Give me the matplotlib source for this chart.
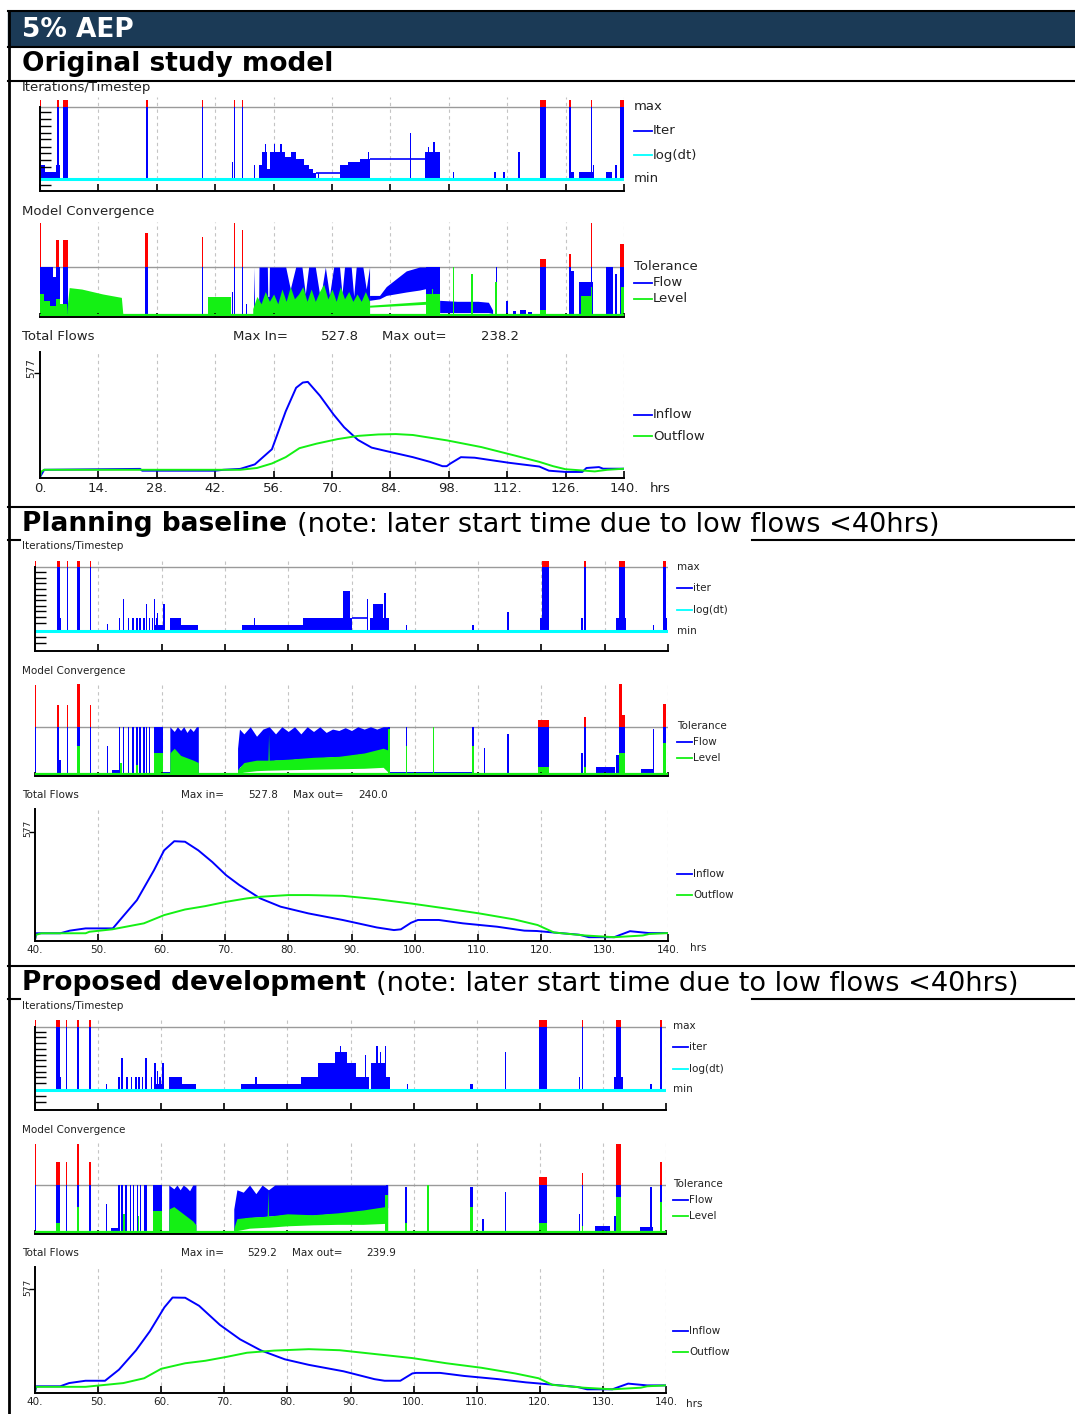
import matplotlib
matplotlib.use('Agg')
import matplotlib.pyplot as plt
from matplotlib.lines import Line2D
from matplotlib.patches import Rectangle
import numpy as np

# ---------------- data ----------------
# iteration panels: (t_start, t_end, height) ; 0 = min, 1 = max, >1 red
ITER1_BARS = [(0, 0.3, 1.1), (0, 1.2, 0.19), (1.2, 3.8, 0.1), (3.8, 4.8, 0.2), (4.0, 4.6, 1.1), (5.4, 6.8, 1.1),
              (25.3, 25.9, 1.1), (38.8, 38.8, 1.1), (46.0, 46.2, 0.24), (46.5, 46.5, 1.1), (48.4, 48.4, 1.1),
              (51.3, 51.3, 0.19), (52.5, 53.3, 0.19), (53.3, 54.4, 0.38), (53.9, 53.9, 0.48), (54.4, 55.2, 0.14),
              (55.2, 58.8, 0.38), (56.0, 56.0, 0.48), (57.6, 57.6, 0.48), (58.8, 60.2, 0.3), (60.2, 61.4, 0.38),
              (61.4, 63.2, 0.28), (63.2, 64.6, 0.2), (64.6, 65.5, 0.14), (65.5, 66.2, 0.09), (66.6, 66.6, 0.09),
              (71.8, 73.8, 0.2), (73.8, 76.6, 0.24), (76.6, 79.0, 0.28), (78.6, 78.6, 0.38), (88.6, 88.6, 0.64),
              (92.2, 95.8, 0.38), (93.0, 93.0, 0.45), (94.2, 94.8, 0.52), (99.0, 99.0, 0.1), (108.8, 109.3, 0.1),
              (111.1, 111.1, 0.1), (114.7, 114.7, 0.38), (119.9, 121.3, 1.1), (126.9, 126.9, 1.1),
              (127.2, 128.1, 0.1), (129.3, 132.5, 0.1), (132.1, 132.1, 1.1), (132.6, 132.6, 0.19),
              (135.8, 137.1, 0.1), (137.9, 137.9, 0.19), (139.1, 140, 1.1)]
ITER1_LINES = [(66.2, 71.8, 0.09), (79.0, 92.2, 0.28)]

ITER2_BARS = [(40, 40, 1.1), (43.4, 43.9, 1.1), (43.8, 44.1, 0.2), (45.0, 45.0, 1.1), (46.7, 47.1, 1.1),
              (48.7, 48.7, 1.1), (51.4, 51.4, 0.11), (53.2, 53.2, 0.2), (53.9, 53.9, 0.5), (54.7, 54.7, 0.2),
              (55.4, 55.4, 0.2), (56.0, 56.0, 0.2), (56.5, 56.5, 0.2), (57.1, 57.1, 0.2), (57.5, 57.5, 0.42),
              (58.0, 58.0, 0.2), (58.5, 58.5, 0.2), (58.8, 58.8, 0.5), (59.1, 59.1, 0.2), (59.3, 59.3, 0.28),
              (59.0, 60.3, 0.1), (60.3, 60.3, 0.42), (61.3, 63.1, 0.2), (63.1, 65.8, 0.1), (72.7, 82.4, 0.1),
              (74.6, 74.6, 0.2), (82.4, 88.6, 0.2), (88.6, 89.8, 0.62), (89.8, 90.0, 0.2), (92.4, 92.4, 0.5),
              (93.0, 96.0, 0.2), (93.4, 95.0, 0.42), (95.2, 95.2, 0.6), (98.6, 98.6, 0.1), (109.0, 109.4, 0.1),
              (114.6, 114.6, 0.3), (119.7, 120.1, 0.2), (120.1, 121.2, 1.1), (126.3, 126.3, 0.2),
              (126.7, 127.1, 1.1), (131.8, 133.4, 0.2), (132.2, 133.2, 1.1), (137.6, 137.6, 0.1),
              (139.2, 139.7, 1.1), (139.7, 139.9, 0.2)]
ITER2_LINES = [(90.0, 92.4, 0.2)]

ITER3_BARS = [(40, 40, 1.1), (43.4, 43.9, 1.1), (43.8, 44.1, 0.2), (44.9, 44.9, 1.1), (46.6, 47.0, 1.1),
              (48.6, 48.6, 1.1), (51.2, 51.2, 0.1), (53.2, 53.2, 0.2), (53.7, 53.7, 0.5), (54.5, 54.5, 0.2),
              (55.2, 55.2, 0.2), (55.9, 55.9, 0.2), (56.4, 56.4, 0.2), (56.9, 56.9, 0.2), (57.5, 57.5, 0.5),
              (58.4, 58.4, 0.2), (58.9, 58.9, 0.42), (59.3, 59.3, 0.3), (59.7, 59.7, 0.2), (59.2, 60.2, 0.1),
              (60.2, 60.2, 0.42), (61.2, 63.3, 0.2), (63.3, 65.5, 0.1), (72.7, 82.2, 0.1), (74.9, 74.9, 0.2),
              (82.2, 84.9, 0.2), (84.9, 87.5, 0.42), (87.5, 89.4, 0.6), (88.3, 88.3, 0.7), (89.4, 90.9, 0.42),
              (90.9, 92.3, 0.2), (92.3, 92.3, 0.55), (92.5, 92.9, 0.2), (93.2, 95.5, 0.42), (94.1, 94.1, 0.7),
              (94.7, 94.7, 0.6), (95.4, 95.4, 0.7), (95.5, 96.2, 0.2), (98.9, 98.9, 0.1), (109.0, 109.4, 0.1),
              (114.5, 114.5, 0.6), (119.9, 121.2, 1.1), (126.2, 126.2, 0.2), (126.7, 126.7, 1.1),
              (131.7, 133.2, 0.2), (132.1, 132.9, 1.1), (137.5, 137.5, 0.1), (139.0, 139.4, 1.1)]
ITER3_LINES = []

LOGTICKS1 = [0.93, 0.83, 0.74, 0.64, 0.55, 0.45, 0.36, 0.26, 0.17, -0.086]
LOGTICKS2 = [0.92, 0.83, 0.75, 0.66, 0.57, 0.48, 0.39, 0.31, 0.22, 0.12, -0.10, -0.19]
LOGTICKS3 = [0.92, 0.83, 0.74, 0.65, 0.56, 0.47, 0.38, 0.29, 0.20, 0.11, -0.10, -0.19]

# convergence panels: 0 = zero, 1 = tolerance, >1 red
CONV1_FLOW_BARS = [(0, 3.2, 1.0), (0, 0, 1.9), (3.2, 3.8, 0.8), (3.8, 4.6, 1.55), (4.6, 4.8, 1.0), (5.4, 6.8, 1.55),
                   (6.8, 8.0, 0.2), (9.0, 9.5, 0.15), (11.0, 11.3, 0.25), (12.5, 13.2, 0.2), (14.0, 14.4, 0.15),
                   (15.5, 16.0, 0.2), (17.0, 17.4, 0.12), (25.2, 25.9, 1.69), (29.4, 36.6, 0.05),
                   (38.8, 38.8, 1.62), (39.5, 40.5, 0.04), (46.0, 46.3, 0.5), (46.5, 46.5, 1.9), (48.4, 48.4, 1.76),
                   (49.3, 49.6, 0.25), (92.6, 95.8, 1.0), (99.0, 99.0, 1.0), (109.3, 109.3, 1.0),
                   (111.8, 112.3, 0.3), (113.5, 114.0, 0.1), (115.0, 116.5, 0.12), (117.0, 118.0, 0.08),
                   (119.9, 121.3, 1.16), (126.9, 126.9, 1.27), (127.2, 128.1, 0.92), (129.3, 132.5, 0.7),
                   (132.1, 132.1, 1.9), (135.8, 137.3, 1.0), (137.9, 137.9, 0.85), (139.1, 140, 1.47)]
CONV1_FLOW_BANDS = [
    ([51.2, 51.5, 52.4, 52.5, 54.5, 54.6, 54.9, 55.0, 58.9, 60.0, 61.3, 62.8, 63.6, 64.4, 66.0, 67.2, 68.4,
      69.4, 70.4, 71.0, 71.8, 72.4, 73.0, 74.6, 75.2, 75.8, 77.4, 78.2, 79.0], 0,
     [1.0, 0.1, 0.1, 1.0, 1.0, 0.4, 0.4, 1.0, 1.0, 0.55, 1.0, 1.0, 0.45, 1.0, 1.0, 0.35, 1.0, 0.42, 1.0, 1.0,
      1.0, 0.45, 1.0, 1.0, 0.4, 1.0, 1.0, 0.55, 1.0]),
    ([79, 81.4, 83, 87.8, 91, 92.6], [0.32, 0.35, 0.42, 0.49, 0.53, 0.56], [0.42, 0.42, 0.6, 0.92, 1.0, 1.0]),
    ([95.8, 100, 105, 107.5, 108.5], [0.07, 0.07, 0.07, 0.07, 0.05], [0.32, 0.3, 0.3, 0.28, 0.12]),
]
CONV1_LEVEL_BARS = [(0, 1, 0.45), (1, 2.5, 0.3), (2.5, 3.8, 0.2), (3.8, 4.8, 0.35), (4.8, 6.4, 0.25),
                    (40.2, 45.7, 0.38), (92.6, 95.8, 0.45), (94, 94, 0.55), (99.0, 99.0, 1.0), (103.4, 103.4, 0.86),
                    (109.1, 109.6, 0.7), (119.9, 121.3, 0.12), (129.8, 132.3, 0.4), (132.1, 132.1, 0.6),
                    (139.3, 140, 0.6)]
CONV1_LEVEL_BANDS = [
    ([6.4, 7.0, 10, 15, 19.5, 19.9], 0, [0.1, 0.58, 0.55, 0.45, 0.38, 0.0]),
    ([51, 52, 53, 54, 55, 56, 57, 58, 59, 60, 61, 62, 63, 64, 65, 66, 67, 68, 69, 70, 71, 72, 73, 74, 75, 76,
      77, 78, 79], 0,
     [0.15, 0.4, 0.25, 0.5, 0.3, 0.45, 0.25, 0.55, 0.3, 0.6, 0.35, 0.45, 0.6, 0.3, 0.55, 0.3, 0.5, 0.65, 0.35,
      0.55, 0.3, 0.6, 0.35, 0.5, 0.3, 0.45, 0.3, 0.5, 0.3]),
    ([79, 92.6], [0.18, 0.24], [0.22, 0.3]),
]

CONV2_FLOW_BARS = [(40, 40, 1.87), (43.4, 43.8, 1.45), (43.8, 44.1, 0.3), (45, 45, 1.45), (46.7, 47.1, 1.9),
                   (48.7, 48.7, 1.45), (51.4, 51.4, 0.6), (52.2, 53.4, 0.1), (53.2, 53.2, 1.0), (53.9, 53.9, 1.0),
                   (54.7, 54.7, 1.0), (55.4, 55.4, 1.0), (56.0, 56.0, 1.0), (56.5, 56.5, 1.0), (57.1, 57.1, 1.0),
                   (57.5, 57.5, 1.0), (58.0, 58.0, 1.0), (58.8, 60.3, 1.0), (60.3, 61.3, 0.05),
                   (65.8, 72.0, 0.04), (95.8, 96.0, 1.0), (96.0, 109.0, 0.05), (98.6, 98.6, 1.0),
                   (109.0, 109.3, 1.0), (110.9, 110.9, 0.55), (112, 112.5, 0.03), (114.6, 114.6, 0.85),
                   (116, 116.4, 0.03), (119.5, 121.2, 1.15), (126.3, 126.3, 0.45), (126.7, 127.1, 1.2),
                   (128.7, 131.6, 0.15), (131.8, 132.2, 0.4), (132.2, 132.7, 1.9), (132.7, 133.2, 1.25),
                   (135.8, 137.6, 0.12), (137.6, 137.6, 0.95), (139.2, 139.7, 1.48)]
CONV2_FLOW_BANDS = [
    ([61.3, 62, 62.5, 63, 63.5, 64, 64.5, 65, 65.5, 65.8], 0, [1.0, 0.9, 1.0, 0.92, 1.0, 0.88, 0.97, 0.9, 1.0, 1.0]),
    ([72, 72.3, 73, 74, 75, 76, 77, 78, 79, 80, 81, 82, 83, 84, 85, 86, 87, 88, 89, 90, 91, 92, 93, 94, 95, 96],
     [0.0, 0.15, 0.22, 0.25, 0.27, 0.28, 0.28, 0.3, 0.3, 0.3, 0.32, 0.33, 0.33, 0.34, 0.35, 0.36, 0.37, 0.37,
      0.38, 0.4, 0.42, 0.43, 0.45, 0.48, 0.5, 0.5],
     [0.55, 0.95, 0.85, 1.0, 0.8, 0.95, 1.0, 0.85, 1.0, 0.9, 1.0, 0.85, 1.0, 0.9, 1.0, 0.88, 0.95, 0.92, 0.98,
      0.92, 1.0, 0.95, 1.0, 0.95, 1.0, 1.0]),
]
CONV2_LEVEL_BARS = [(46.7, 47.1, 0.6), (53.5, 53.5, 0.25), (56, 56, 0.2), (58.8, 60.3, 0.45), (95.8, 96.0, 0.95),
                    (98.6, 98.6, 0.6), (102.9, 102.9, 1.0), (109.0, 109.3, 0.6), (119.5, 121.2, 0.15),
                    (126.7, 127.1, 0.15), (132.2, 133.2, 0.45), (139.2, 139.7, 0.65)]
CONV2_LEVEL_BANDS = [
    ([61.3, 62, 63, 64, 65, 65.8], 0, [0.45, 0.55, 0.4, 0.35, 0.3, 0.25]),
    ([72, 73, 75, 76.8, 76.9, 77.0, 80, 84, 88, 92, 95, 96],
     [0.02, 0.05, 0.08, 0.09, 0.09, 0.09, 0.1, 0.11, 0.12, 0.13, 0.15, 0.02],
     [0.1, 0.25, 0.3, 0.3, 0.85, 0.3, 0.32, 0.36, 0.38, 0.45, 0.55, 0.5]),
]

CONV3_FLOW_BARS = [(40, 40, 1.86), (43.4, 43.9, 1.48), (44.9, 44.9, 1.48), (46.6, 47.0, 1.86), (48.6, 48.6, 1.48),
                   (51.2, 51.2, 0.6), (52.0, 53.5, 0.1), (53.2, 53.2, 1.0), (53.7, 53.7, 1.0), (54.3, 54.3, 1.0),
                   (55.0, 55.0, 1.0), (55.5, 55.5, 1.0), (56.1, 56.1, 1.0), (56.6, 56.6, 1.0), (57.2, 57.2, 1.0),
                   (57.5, 57.5, 1.0), (58.7, 60.2, 1.0), (60.2, 61.2, 0.05), (65.5, 71.5, 0.03),
                   (95.7, 95.9, 1.0), (96.9, 100.2, 0.05), (98.7, 98.7, 0.95), (100.9, 108.5, 0.05),
                   (109.0, 109.4, 0.95), (110.9, 110.9, 0.3), (114.5, 114.5, 0.85), (119.9, 121.2, 1.17),
                   (126.2, 126.2, 0.4), (126.7, 126.7, 1.26), (128.8, 131.2, 0.15), (131.7, 132.1, 0.35),
                   (132.1, 132.9, 1.86), (135.9, 137.9, 0.12), (137.5, 137.5, 0.95), (139.0, 139.4, 1.48)]
CONV3_FLOW_BANDS = [
    ([61.2, 62, 62.5, 63, 63.5, 64, 64.5, 65, 65.5], 0, [1.0, 0.92, 1.0, 0.9, 1.0, 0.95, 0.88, 1.0, 1.0]),
    ([71.5, 72, 73, 74, 75, 76, 77, 78, 79, 80, 81, 82, 83, 84, 85, 86, 87, 88, 89, 90, 91, 92, 93, 94, 95, 95.9],
     [0.0, 0.25, 0.3, 0.32, 0.33, 0.34, 0.35, 0.36, 0.37, 0.38, 0.38, 0.38, 0.37, 0.37, 0.38, 0.39, 0.4, 0.4,
      0.42, 0.43, 0.45, 0.46, 0.48, 0.5, 0.52, 0.52],
     [0.5, 0.9, 0.85, 1.0, 0.82, 1.0, 0.9, 1.0, 1.0, 1.0, 1.0, 1.0, 1.0, 1.0, 1.0, 1.0, 1.0, 1.0, 1.0, 1.0, 1.0,
      1.0, 1.0, 1.0, 1.0, 1.0]),
]
CONV3_LEVEL_BARS = [(43.4, 43.9, 0.2), (46.6, 47.0, 0.55), (54.0, 54.0, 0.4), (56.3, 56.3, 0.35), (58.7, 60.2, 0.45),
                    (95.5, 95.9, 0.8), (98.7, 98.7, 0.2), (102.2, 102.2, 1.0), (109.0, 109.4, 0.55),
                    (119.9, 121.2, 0.2), (126.7, 126.7, 0.15), (132.1, 132.9, 0.75), (139.0, 139.4, 0.65)]
CONV3_LEVEL_BANDS = [
    ([61.2, 62, 63, 64, 65, 65.5], 0, [0.5, 0.55, 0.45, 0.35, 0.25, 0.17]),
    ([71.5, 72, 74, 76.8, 76.9, 77.0, 80, 84, 88, 92, 95.5, 95.9],
     [0.02, 0.05, 0.1, 0.12, 0.12, 0.12, 0.15, 0.17, 0.18, 0.18, 0.2, 0.02],
     [0.1, 0.3, 0.33, 0.35, 0.9, 0.35, 0.4, 0.38, 0.42, 0.48, 0.55, 0.5]),
]

# total flows hydrographs
S1_T_IN = [0, 0.5, 1, 24, 24.5, 42, 44, 48, 51.5, 55.6, 58.9, 61.4, 63, 64.2, 67.1, 70.4, 72.9, 76.2, 79.5, 82.8,
           89.4, 93.5, 96.5, 97.5, 98.4, 100.9, 104.2, 112.4, 119.7, 122, 126, 130, 131, 134, 135, 140]
S1_Q_IN = [0, 20, 40, 45, 35, 35, 40, 45, 70, 154, 364, 495, 524, 527.8, 451, 346, 276, 206, 163, 145,
           110, 84, 60, 60, 75, 110, 107, 79, 58, 35, 28, 28, 50, 55, 46, 46]
S1_T_OUT = [0, 0.3, 1, 42, 48, 52, 55.6, 58.9, 62.2, 66.3, 71.3, 76.2, 81.1, 85.3, 89.4, 97.6, 105.8, 114, 119.7,
            123, 126, 133, 136, 140]
S1_Q_OUT = [0, 30, 40, 40, 40, 50, 75, 110, 160, 185, 210, 228, 236, 238.2, 233, 203, 166, 118, 84, 60, 43, 31,
            40, 46]

S2_T_IN = [40, 40.2, 44, 45.5, 48, 52.3, 53.4, 56.1, 58.8, 60.4, 62, 63.7, 65.8, 68, 70.2, 72.3, 75.6, 78.8, 83.2,
           88.6, 94, 96.7, 97.8, 99.4, 100.5, 103.8, 107.6, 113, 117.3, 119.3, 126, 127.5, 131.5, 132.5, 134, 137,
           140]
S2_Q_IN = [0, 36, 36, 50, 62, 62, 106, 213, 373, 479, 527.8, 525, 479, 417, 346, 293, 222, 178, 142, 107, 67, 53,
           57, 92, 107, 107, 89, 71, 50, 48, 28, 15, 15, 28, 47, 37, 37]
S2_T_OUT = [40, 40.1, 41, 48, 48.6, 52.2, 57.2, 60.4, 63.7, 66.9, 70.2, 73.4, 75.6, 80, 83.2, 88.6, 94, 99.4,
            104.8, 110.2, 115.7, 119.4, 122, 127, 131.5, 136, 137, 140]
S2_Q_OUT = [0, 27, 36, 36, 44, 57, 89, 133, 163, 181, 204, 222, 231, 240, 240, 236, 218, 195, 169, 142, 110, 80,
            40, 24, 15, 24, 32, 37]

S3_T_IN = [40, 40.2, 44, 45.4, 48, 51.1, 53.3, 56, 58.2, 60.5, 61.8, 63.8, 66, 69.3, 72.5, 75.8, 79.6, 83.4, 88.9,
           93.8, 95.4, 97.9, 99.8, 100.4, 104.2, 108, 113.4, 117.8, 119.8, 126, 127.5, 131.5, 132.5, 134, 137, 140]
S3_Q_IN = [0, 32, 32, 50, 63, 63, 125, 233, 340, 474, 529.2, 528, 483, 376, 295, 233, 183, 152, 116, 72, 63, 63,
           104, 107, 107, 90, 72, 54, 48, 28, 15, 15, 28, 47, 37, 37]
S3_T_OUT = [40, 40.1, 41, 48, 50, 54, 57.3, 60, 63.8, 67, 70.4, 73.6, 77.9, 83.4, 88.3, 94.3, 99.8, 105.2, 110.7,
            116.1, 119.8, 122, 127, 131.5, 136, 137, 140]
S3_Q_OUT = [0, 29, 29, 29, 36, 50, 77, 130, 161, 175, 197, 220, 232, 239.9, 234, 211, 190, 161, 136, 104, 77, 40,
            24, 15, 24, 32, 37]

XT1 = list(range(0, 141, 14))
XT2 = list(range(40, 141, 10))

# ---------------- drawing ----------------
W, H = 1075, 1414
BLUE, RED, GREEN, CYAN = '#0000ff', '#ff0000', '#14f014', '#00ffff'
GRAY, GRID, NAVY = '#9a9a9a', '#c4c4c4', '#1b3a56'

fig = plt.figure(figsize=(W / 100, H / 100), dpi=100)


def fx(x):
    return x / W


def fy(y):
    return 1 - y / H


def add_box(x0, x1, ytop, ybot, t0, t1, y0px, y1px, v1):
    ax = fig.add_axes([fx(x0), fy(ybot), (x1 - x0) / W, (ybot - ytop) / H])
    ax.set_xlim(t0, t1)
    k = v1 / (y0px - y1px)
    ax.set_ylim((y0px - ybot) * k, (y0px - ytop) * k)
    ax.patch.set_alpha(0)
    for s in ax.spines.values():
        s.set_visible(False)
    return ax


def draw_rects(ax, rects, color, minw, over=None):
    t0 = np.array([r[0] for r in rects], float)
    t1 = np.array([r[1] for r in rects], float)
    h = np.array([r[2] for r in rects], float)
    w = np.maximum(t1 - t0, minw)
    if over:
        ax.bar(t0, np.minimum(h, 1), w, align='edge', color=color, lw=0)
        m = h > 1
        ax.bar(t0[m], h[m] - 1, w[m], bottom=1, align='edge', color=over, lw=0)
    else:
        ax.bar(t0, h, w, align='edge', color=color, lw=0)


def draw_bands(ax, bands, color):
    for t, lo, hi in bands:
        ax.fill_between(t, lo, hi, color=color, lw=0)


def grid(ax, xt, top):
    ax.vlines(xt[1:], 0, top, colors=GRID, linestyles=(0, (3, 3)), lw=0.8, zorder=0)


def iter_panel(x0, x1, t0, t1, ytop, ymax, ymin, ybot, bars, lines, logticks, xt):
    ax = add_box(x0, x1, ytop, ybot, t0, t1, ymin, ymax, 1.0)
    pxh = (x1 - x0) / (t1 - t0)
    grid(ax, xt, ax.get_ylim()[1])
    ax.axhline(1, color=GRAY, lw=1, zorder=0.5)
    draw_rects(ax, bars, BLUE, 1.3 / pxh, over=RED)
    for a, b, h in lines:
        ax.hlines(h, a, b, color=BLUE, lw=1.2)
    ax.axhline(0, color=CYAN, lw=2.2)
    ax.spines['left'].set_visible(True)
    ax.spines['bottom'].set_visible(True)
    ax.spines['left'].set_bounds(ax.get_ylim()[0], 1)
    for s in ('left', 'bottom'):
        ax.spines[s].set_linewidth(1.4)
    ax.set_xticks(xt)
    ax.set_yticks(logticks)
    ax.tick_params(axis='x', direction='in', length=5, width=1.2, labelbottom=False)
    ax.tick_params(axis='y', direction='in', length=8, width=1, labelleft=False)
    return ax


def conv_panel(x0, x1, t0, t1, ytop, ytol, yzero, xt, fbars, fbands, lbars, lbands):
    ax = add_box(x0, x1, ytop, yzero + 1, t0, t1, yzero, ytol, 1.0)
    pxh = (x1 - x0) / (t1 - t0)
    grid(ax, xt, ax.get_ylim()[1])
    ax.axhline(1, color=GRAY, lw=1, zorder=0.5)
    draw_bands(ax, fbands, BLUE)
    draw_rects(ax, fbars, BLUE, 1.3 / pxh, over=RED)
    draw_bands(ax, lbands, GREEN)
    draw_rects(ax, lbars, GREEN, 1.3 / pxh)
    ax.hlines(0.015, t0, t1, color=GREEN, lw=1.6)
    ax.spines['bottom'].set_visible(True)
    ax.spines['bottom'].set_linewidth(1.4)
    ax.set_xticks(xt)
    ax.set_yticks([])
    ax.tick_params(axis='x', direction='in', length=3, width=1.2, labelbottom=False)
    return ax


def flow_panel(x0, x1, t0, t1, ytop, yzero, y577, xt, labels, fs, tin, qin, tout, qout):
    ax = add_box(x0, x1, ytop, yzero + 1, t0, t1, yzero, y577, 577)
    grid(ax, xt, ax.get_ylim()[1])
    ax.plot(tin, qin, color=BLUE, lw=1.4)
    ax.plot(tout, qout, color=GREEN, lw=1.4)
    ax.spines['left'].set_visible(True)
    ax.spines['bottom'].set_visible(True)
    for s in ('left', 'bottom'):
        ax.spines[s].set_linewidth(1.4)
    ax.set_xticks(xt)
    ax.set_xticklabels(labels, fontsize=fs, color='#222222')
    ax.set_yticks([577])
    ax.set_yticklabels([])
    ax.tick_params(axis='x', direction='in', length=5, width=1.2, pad=3)
    ax.tick_params(axis='y', direction='out', length=4, width=1)
    return ax


def txt(x, y, s, fs, **kw):
    kw.setdefault('color', '#222222')
    fig.text(fx(x), fy(y), s, fontsize=fs, va='center', ha=kw.pop('ha', 'left'), **kw)


def leg(x, y, color, s, fs, ln=18):
    fig.add_artist(Line2D([fx(x), fx(x + ln)], [fy(y), fy(y)], color=color, lw=1.3))
    txt(x + ln + 1, y, s, fs)


def hline(y, x0, x1, lw=1.5):
    fig.add_artist(Line2D([fx(x0), fx(x1)], [fy(y), fy(y)], color='black', lw=lw))


# --- frame and headings ---
fig.add_artist(Rectangle((fx(8), fy(46)), (W - 8) / W, 35 / H, transform=fig.transFigure,
                         color=NAVY, zorder=0))
hline(11, 8, W)
hline(46.5, 8, W)
hline(80.5, 8, W)
hline(507, 8, W)
hline(540, 8, 20)
hline(540, 752, W)
hline(966, 8, W)
hline(999, 8, 20)
hline(999, 752, W)
fig.add_artist(Line2D([fx(9), fx(9)], [fy(11), 0], color='black', lw=2))

txt(22, 30, '5% AEP', 19, color='white', fontweight='bold')
txt(22, 64, 'Original study model', 19, color='black', fontweight='bold')
txt(22, 524, 'Planning baseline', 19, color='black', fontweight='bold')
txt(297, 525, '(note: later start time due to low flows <40hrs)', 19.5, color='black')
txt(22, 983, 'Proposed development', 19, color='black', fontweight='bold')
txt(376, 984, '(note: later start time due to low flows <40hrs)', 19.5, color='black')

# --- section 1: original study model ---
f1 = 9.5
iter_panel(40, 624, 0, 140, 97, 107, 179, 191, ITER1_BARS, ITER1_LINES, LOGTICKS1, XT1)
conv_panel(40, 624, 0, 140, 222, 267, 316, XT1, CONV1_FLOW_BARS, CONV1_FLOW_BANDS,
           CONV1_LEVEL_BARS, CONV1_LEVEL_BANDS)
flow_panel(40, 624, 0, 140, 352, 477, 373, XT1, [f'{v}.' for v in XT1], f1,
           S1_T_IN, S1_Q_IN, S1_T_OUT, S1_Q_OUT)
txt(22, 87, 'Iterations/Timestep', f1)
txt(634, 107, 'max', f1)
leg(634, 131, BLUE, 'Iter', f1)
leg(634, 155, CYAN, 'log(dt)', f1)
txt(634, 178, 'min', f1)
txt(22, 211, 'Model Convergence', f1)
txt(634, 267, 'Tolerance', f1)
leg(634, 283, BLUE, 'Flow', f1)
leg(634, 299, GREEN, 'Level', f1)
txt(22, 336, 'Total Flows', f1)
txt(233, 336, 'Max In=', f1)
txt(321, 336, '527.8', f1)
txt(382, 336, 'Max out=', f1)
txt(481, 336, '238.2', f1)
txt(31, 368, '577', 7.5, rotation=90, ha='center')
txt(650, 489, 'hrs', f1)
leg(634, 415, BLUE, 'Inflow', f1)
leg(634, 436, GREEN, 'Outflow', f1)

# --- section 2: planning baseline ---
f2 = 7.5
iter_panel(35, 668, 40, 140, 558, 567, 631, 651, ITER2_BARS, ITER2_LINES, LOGTICKS2, XT2)
conv_panel(35, 668, 40, 140, 682, 726.7, 774.5, XT2, CONV2_FLOW_BARS, CONV2_FLOW_BANDS,
           CONV2_LEVEL_BARS, CONV2_LEVEL_BANDS)
flow_panel(35, 668, 40, 140, 809, 940, 832, XT2, [f'{v}.' for v in XT2], f2,
           S2_T_IN, S2_Q_IN, S2_T_OUT, S2_Q_OUT)
txt(22, 546, 'Iterations/Timestep', f2)
txt(677, 567, 'max', f2)
leg(677, 588, BLUE, 'iter', f2, 15)
leg(677, 610, CYAN, 'log(dt)', f2, 15)
txt(677, 631, 'min', f2)
txt(22, 671, 'Model Convergence', f2)
txt(677, 726, 'Tolerance', f2)
leg(677, 742, BLUE, 'Flow', f2, 15)
leg(677, 758, GREEN, 'Level', f2, 15)
txt(22, 795, 'Total Flows', f2)
txt(181, 795, 'Max in=', f2)
txt(248, 795, '527.8', f2)
txt(293, 795, 'Max out=', f2)
txt(358, 795, '240.0', f2)
txt(28, 828, '577', 6.5, rotation=90, ha='center')
txt(690, 948, 'hrs', f2)
leg(677, 874, BLUE, 'Inflow', f2, 15)
leg(677, 895, GREEN, 'Outflow', f2, 15)

# --- section 3: proposed development ---
iter_panel(35, 666, 40, 140, 1017, 1026.7, 1090, 1110, ITER3_BARS, ITER3_LINES, LOGTICKS3, XT2)
conv_panel(35, 666, 40, 140, 1140, 1185, 1233, XT2, CONV3_FLOW_BARS, CONV3_FLOW_BANDS,
           CONV3_LEVEL_BARS, CONV3_LEVEL_BANDS)
flow_panel(35, 666, 40, 140, 1267, 1392, 1289, XT2, [f'{v}.' for v in XT2], f2,
           S3_T_IN, S3_Q_IN, S3_T_OUT, S3_Q_OUT)
txt(22, 1006, 'Iterations/Timestep', f2)
txt(673, 1026, 'max', f2)
leg(673, 1047, BLUE, 'iter', f2, 15)
leg(673, 1069, CYAN, 'log(dt)', f2, 15)
txt(673, 1089, 'min', f2)
txt(22, 1130, 'Model Convergence', f2)
txt(673, 1184, 'Tolerance', f2)
leg(673, 1200, BLUE, 'Flow', f2, 15)
leg(673, 1216, GREEN, 'Level', f2, 15)
txt(22, 1253, 'Total Flows', f2)
txt(181, 1253, 'Max in=', f2)
txt(247, 1253, '529.2', f2)
txt(292, 1253, 'Max out=', f2)
txt(366, 1253, '239.9', f2)
txt(28, 1287, '577', 6.5, rotation=90, ha='center')
txt(686, 1404, 'hrs', f2)
leg(673, 1331, BLUE, 'Inflow', f2, 15)
leg(673, 1352, GREEN, 'Outflow', f2, 15)

fig.savefig('out.png', dpi=100)
